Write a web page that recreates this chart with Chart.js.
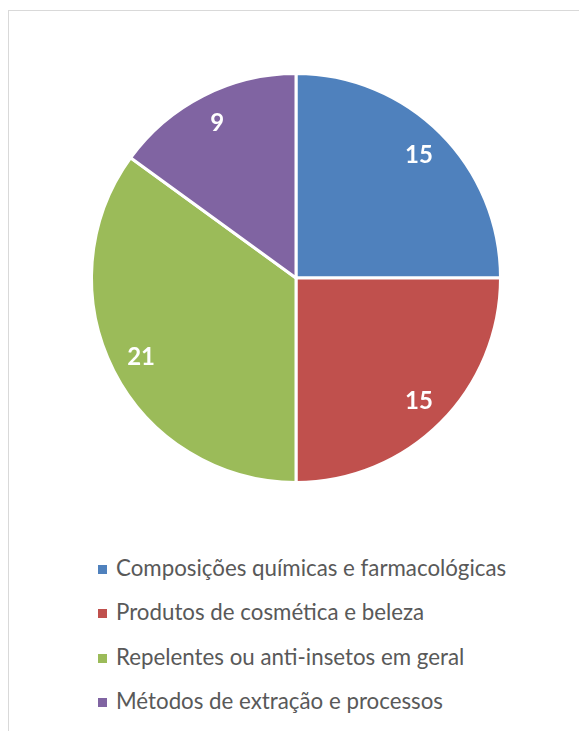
<!DOCTYPE html>
<html>
<head>
<meta charset="utf-8">
<script src="https://cdn.jsdelivr.net/npm/chart.js@4"></script>
<style>
  html, body { margin: 0; padding: 0; background: #fff; }
  .page { position: relative; width: 579px; height: 731px; overflow: hidden; }
  .frame {
    position: absolute; left: 8px; top: 10px; right: -10px; bottom: -10px;
    border-top: 1px solid #d9d9d9; border-left: 1px solid #d9d9d9;
  }
  .myPieChart { position: absolute; left: 86px; top: 68px; }
  .legend { position: absolute; left: 98px; top: 546px; margin: 0; padding: 0; list-style: none;
    font-family: Lato, sans-serif; font-size: 22.3px; color: #595959; }
  .legend li { height: 44.3px; line-height: 44px; white-space: nowrap; }
  .legend span { display: inline-block; width: 9px; height: 9px; margin-right: 9px; vertical-align: 2px; }
</style>
</head>
<body>
<div class="page">
  <div class="frame"></div>
  <canvas class="myPieChart" width="420" height="420"></canvas>
  <ul class="legend"></ul>
</div>
<script>
const categories = [
  "Composições químicas e farmacológicas",
  "Produtos de cosmética e beleza",
  "Repelentes ou anti-insetos em geral",
  "Métodos de extração e processos",
];
const counts = [15, 15, 21, 9];
const colors = ["#4F81BD", "#C0504D", "#9BBB59", "#8064A2"];

// value labels inside the slices
const sliceLabels = {
  id: "sliceLabels",
  afterDatasetsDraw(chart) {
    const ctx = chart.ctx;
    const meta = chart.getDatasetMeta(0);
    ctx.save();
    ctx.fillStyle = "#ffffff";
    ctx.font = "bold 24px Lato, sans-serif";
    ctx.textAlign = "center";
    ctx.textBaseline = "middle";
    meta.data.forEach((arc, i) => {
      const p = arc.getProps(["x", "y", "startAngle", "endAngle", "outerRadius"], true);
      const mid = (p.startAngle + p.endAngle) / 2;
      const r = p.outerRadius * 0.85;
      ctx.fillText(String(counts[i]), p.x + Math.cos(mid) * r, p.y + Math.sin(mid) * r);
    });
    ctx.restore();
  },
};

const ctx = document.querySelector(".myPieChart").getContext("2d");
new Chart(ctx, {
  type: "pie",
  data: {
    labels: categories,
    datasets: [
      {
        data: counts,
        backgroundColor: colors,
        borderColor: "#ffffff",
        borderWidth: 3,
      },
    ],
  },
  options: {
    responsive: false,
    animation: false,
    layout: { padding: 4 },
    plugins: {
      legend: { display: false },
      tooltip: { enabled: false },
    },
  },
  plugins: [sliceLabels],
});

// legend list built from the same arrays
const legend = document.querySelector(".legend");
categories.forEach((name, i) => {
  const li = document.createElement("li");
  const box = document.createElement("span");
  box.style.background = colors[i];
  li.appendChild(box);
  li.appendChild(document.createTextNode(name));
  legend.appendChild(li);
});
</script>
</body>
</html>
